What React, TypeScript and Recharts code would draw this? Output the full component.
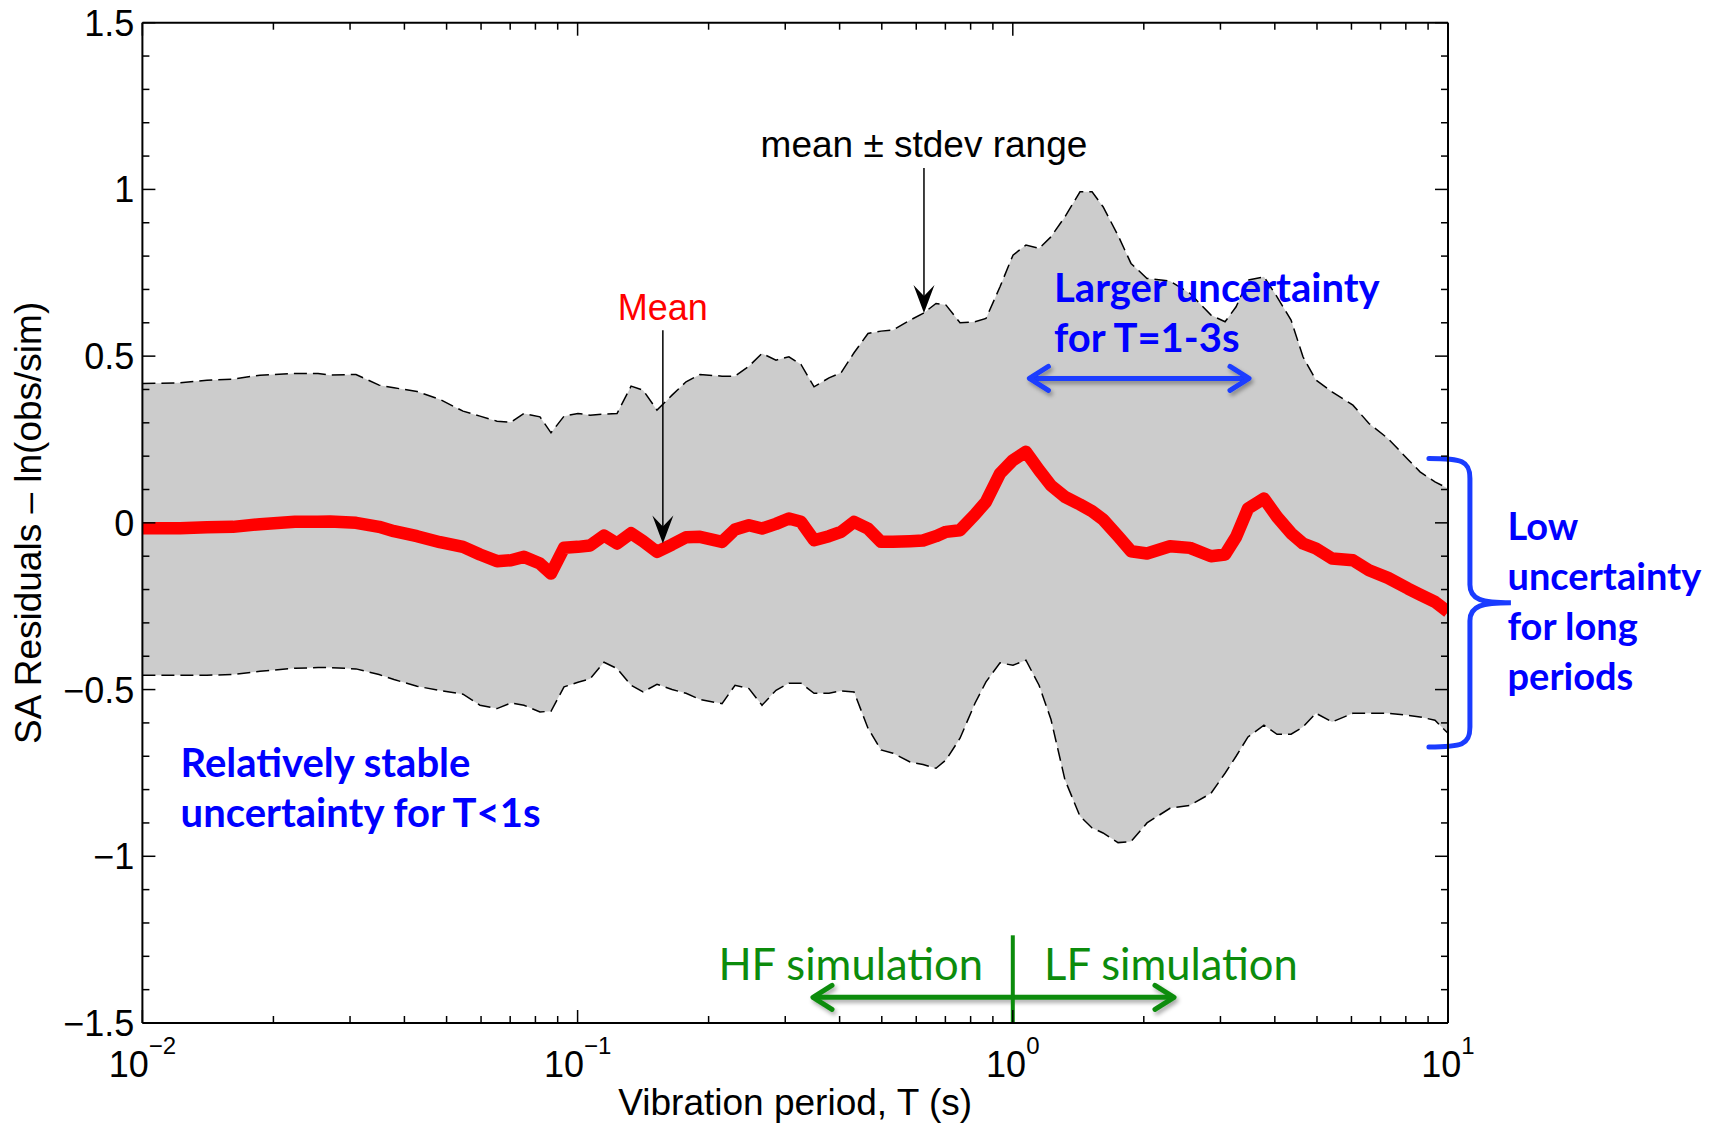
import React from "react";
import {
  ComposedChart,
  Area,
  Line,
  XAxis,
  YAxis,
  ReferenceDot,
  ReferenceLine,
} from "recharts";

// vibration period T (s)
const periods = [
  0.01, 0.0122, 0.01407, 0.01615, 0.01863, 0.02242, 0.02533, 0.02699, 0.03096, 0.03498,
  0.03785, 0.04276, 0.04829, 0.05454, 0.05966, 0.06529, 0.07031, 0.07527, 0.08194, 0.08687,
  0.09307, 0.1002, 0.1068, 0.115, 0.1232, 0.1327, 0.1414, 0.1522, 0.1648, 0.1775,
  0.1911, 0.2147, 0.23, 0.2476, 0.2653, 0.2857, 0.3059, 0.3261, 0.3494, 0.3782,
  0.403, 0.4317, 0.4648, 0.4979, 0.5306, 0.5806, 0.622, 0.6661, 0.7024, 0.7563,
  0.8187, 0.8677, 0.9346, 1.001, 1.072, 1.149, 1.224, 1.318, 1.427, 1.521,
  1.612, 1.745, 1.869, 2.034, 2.297, 2.554, 2.854, 3.074, 3.259, 3.471,
  3.777, 4.047, 4.359, 4.643, 4.973, 5.414, 6.047, 6.583, 7.279, 8.092,
  8.625, 9.335, 10,
];

const meanResidual = [
  -0.016, -0.016, -0.013, -0.012, -0.004, 0.003, 0.003, 0.004, 0.0, -0.012,
  -0.025, -0.04, -0.058, -0.072, -0.095, -0.115, -0.112, -0.102, -0.122, -0.152,
  -0.075, -0.072, -0.068, -0.038, -0.062, -0.031, -0.055, -0.087, -0.065, -0.043,
  -0.042, -0.057, -0.02, -0.007, -0.017, -0.003, 0.013, 0.003, -0.052, -0.04,
  -0.027, 0.003, -0.017, -0.057, -0.057, -0.055, -0.053, -0.04, -0.027, -0.022,
  0.025, 0.063, 0.148, 0.188, 0.213, 0.158, 0.112, 0.078, 0.055, 0.035,
  0.01, -0.04, -0.085, -0.092, -0.07, -0.075, -0.1, -0.095, -0.042, 0.043,
  0.073, 0.018, -0.031, -0.062, -0.077, -0.107, -0.112, -0.142, -0.165, -0.197,
  -0.215, -0.237, -0.267,
];

const upperBound = [
  0.418, 0.42, 0.428, 0.431, 0.443, 0.448, 0.448, 0.443, 0.445, 0.413,
  0.405, 0.394, 0.37, 0.335, 0.32, 0.305, 0.302, 0.328, 0.318, 0.27,
  0.32, 0.328, 0.323, 0.326, 0.328, 0.41, 0.398, 0.338, 0.383, 0.423,
  0.445, 0.44, 0.44, 0.47, 0.508, 0.488, 0.498, 0.475, 0.408, 0.435,
  0.45, 0.51, 0.568, 0.575, 0.578, 0.608, 0.628, 0.658, 0.653, 0.6,
  0.603, 0.613, 0.708, 0.803, 0.833, 0.823, 0.858, 0.918, 0.993, 0.993,
  0.948, 0.862, 0.778, 0.733, 0.725, 0.688, 0.623, 0.603, 0.648, 0.728,
  0.738, 0.678, 0.608, 0.498, 0.428, 0.393, 0.353, 0.298, 0.253, 0.19,
  0.153, 0.123, 0.103,
];

const lowerBound = [
  -0.457, -0.457, -0.457, -0.455, -0.445, -0.436, -0.434, -0.434, -0.438, -0.455,
  -0.47, -0.49, -0.503, -0.514, -0.547, -0.557, -0.54, -0.547, -0.567, -0.565,
  -0.492, -0.478, -0.468, -0.418, -0.437, -0.487, -0.507, -0.484, -0.5, -0.511,
  -0.53, -0.542, -0.487, -0.497, -0.547, -0.502, -0.481, -0.481, -0.511, -0.511,
  -0.504, -0.507, -0.616, -0.681, -0.691, -0.717, -0.725, -0.736, -0.711, -0.646,
  -0.541, -0.477, -0.42, -0.427, -0.412, -0.487, -0.59, -0.771, -0.88, -0.915,
  -0.93, -0.959, -0.956, -0.9, -0.856, -0.847, -0.811, -0.751, -0.7, -0.642,
  -0.607, -0.634, -0.634, -0.612, -0.571, -0.597, -0.571, -0.571, -0.571, -0.577,
  -0.582, -0.592, -0.631,
];

const xTicks = [
  0.01, 0.02, 0.03, 0.04, 0.05, 0.06, 0.07, 0.08, 0.09,
  0.1, 0.2, 0.3, 0.4, 0.5, 0.6, 0.7, 0.8, 0.9,
  1, 2, 3, 4, 5, 6, 7, 8, 9, 10,
];
const yTicks = [
  -1.5, -1.4, -1.3, -1.2, -1.1, -1, -0.9, -0.8, -0.7, -0.6, -0.5, -0.4, -0.3, -0.2, -0.1,
  0, 0.1, 0.2, 0.3, 0.4, 0.5, 0.6, 0.7, 0.8, 0.9, 1, 1.1, 1.2, 1.3, 1.4, 1.5,
];

// annotation anchors in data units (period, residual)
const stdevArrow = [{ x: 0.625, y: 1.064 }, { x: 0.625, y: 0.629 }];
const meanArrow = [{ x: 0.157, y: 0.578 }, { x: 0.157, y: -0.062 }];
const blueArrow = [{ x: 1.086, y: 0.433 }, { x: 3.508, y: 0.433 }];
const greenArrow = [{ x: 0.3456, y: -1.423 }, { x: 2.359, y: -1.423 }];
const splitLine = [{ x: 1, y: -1.237 }, { x: 1, y: -1.5 }];
const braceSpan = [{ x: 11.23, y: 0.193 }, { x: 11.23, y: -0.672 }];

const SANS = "'Liberation Sans', Arial, Helvetica, sans-serif";
const CAL = "Lato, 'Open Sans', sans-serif";
const BLUE_TXT = "#0000ff";
const BLUE_LN = "#1a3cff";
const GREEN = "#0c8c0c";

const notes = [
  { x: 0.625, y: 1.098, lines: ["mean \u00b1 stdev range"], color: "#000", anchor: "middle", font: SANS, size: 37, weight: 400 },
  { x: 0.157, y: 0.608, lines: ["Mean"], color: "#ff0000", anchor: "middle", font: SANS, size: 36, weight: 400 },
  { x: 1.244, y: 0.663, lines: ["Larger uncertainty", "for T=1-3s"], color: BLUE_TXT, anchor: "start", font: CAL, size: 40, weight: 700 },
  { x: 13.7, y: -0.052, lines: ["Low", "uncertainty", "for long", "periods"], color: BLUE_TXT, anchor: "start", font: CAL, size: 38, weight: 700 },
  { x: 0.01224, y: -0.7615, lines: ["Relatively stable", "uncertainty for T<1s"], color: BLUE_TXT, anchor: "start", font: CAL, size: 40, weight: 700 },
  { x: 0.854, y: -1.371, lines: ["HF simulation"], color: GREEN, anchor: "end", font: CAL, size: 43.5, weight: 400 },
  { x: 1.18, y: -1.371, lines: ["LF simulation"], color: GREEN, anchor: "start", font: CAL, size: 43.5, weight: 400 },
];

const rows = periods.map((T, i) => ({
  T,
  mean: meanResidual[i],
  upper: upperBound[i],
  lower: lowerBound[i],
  band: [lowerBound[i], upperBound[i]],
}));

const isDecade = (v: number) => Math.abs(Math.log10(v) - Math.round(Math.log10(v))) < 1e-6;
const isHalf = (v: number) => Math.abs(v * 2 - Math.round(v * 2)) < 1e-6;
const fmtY = (v: number) => (Math.abs(v) < 1e-9 ? "0" : v < 0 ? `\u2212${Math.abs(v)}` : `${v}`);

const BottomTick = (p: any) => {
  const { x, y, payload } = p;
  const major = isDecade(payload.value);
  const exp = Math.round(Math.log10(payload.value));
  return (
    <g>
      <line x1={x} x2={x} y1={y} y2={y - (major ? 13 : 7)} stroke='#000' strokeWidth={1.5} />
      {major && (
        <text x={x} y={y + 54} textAnchor='middle' fontFamily={SANS} fontSize={36} fill='#000'>
          10
          <tspan dy={-23} fontSize={24}>
            {exp < 0 ? `\u2212${-exp}` : `${exp}`}
          </tspan>
        </text>
      )}
    </g>
  );
};

const TopTick = (p: any) => {
  const { x, y, payload } = p;
  const major = isDecade(payload.value);
  return <line x1={x} x2={x} y1={y} y2={y + (major ? 13 : 7)} stroke='#000' strokeWidth={1.5} />;
};

const LeftTick = (p: any) => {
  const { x, y, payload } = p;
  const major = isHalf(payload.value);
  return (
    <g>
      <line x1={x} x2={x + (major ? 13 : 7)} y1={y} y2={y} stroke='#000' strokeWidth={1.5} />
      {major && (
        <text x={x - 8} y={y} dy='0.36em' textAnchor='end' fontFamily={SANS} fontSize={36} fill='#000'>
          {fmtY(payload.value)}
        </text>
      )}
    </g>
  );
};

const RightTick = (p: any) => {
  const { x, y, payload } = p;
  const major = isHalf(payload.value);
  return <line x1={x} x2={x - (major ? 13 : 7)} y1={y} y2={y} stroke='#000' strokeWidth={1.5} />;
};

// thin black arrow with a stealth head pointing at (x2, y2)
const StealthArrow = (p: any) => {
  const { x1, y1, x2, y2 } = p;
  return (
    <g>
      <line x1={x1} y1={y1} x2={x2} y2={y2 - 12} stroke='#000' strokeWidth={1.5} />
      <path
        d={`M${x2},${y2} L${x2 - 10.5},${y2 - 28} L${x2},${y2 - 17} L${x2 + 10.5},${y2 - 28} Z`}
        fill='#000'
      />
    </g>
  );
};

const makeDoubleArrow = (color: string, id: string) => (p: any) => {
  const { x1, y1, x2, y2 } = p;
  return (
    <g>
      <defs>
        <filter id={id} x='-10%' y='-100%' width='120%' height='300%'>
          <feDropShadow dx='2' dy='3' stdDeviation='2' floodColor='#000' floodOpacity='0.35' />
        </filter>
      </defs>
      <g filter={`url(#${id})`} stroke={color} strokeWidth={5} strokeLinecap='round' fill='none'>
        <line x1={x1 + 2} y1={y1} x2={x2 - 2} y2={y2} />
        <polyline points={`${x1 + 20},${y1 - 12} ${x1 + 1},${y1} ${x1 + 20},${y1 + 12}`} strokeLinejoin='round' />
        <polyline points={`${x2 - 20},${y2 - 12} ${x2 - 1},${y2} ${x2 - 20},${y2 + 12}`} strokeLinejoin='round' />
      </g>
    </g>
  );
};

const BlueArrow = makeDoubleArrow(BLUE_LN, "shadowBlue");
const GreenArrow = makeDoubleArrow(GREEN, "shadowGreen");

const SplitMark = (p: any) => (
  <line x1={p.x1} y1={p.y1} x2={p.x2} y2={p.y2} stroke={GREEN} strokeWidth={4} />
);

// curly brace: vertical spine at x1 from y1 to y2, point towards the right
const Brace = (p: any) => {
  const { x1: x, y1: yT, y2: yB } = p;
  const yM = (yT + yB) / 2;
  const d = [
    `M${x - 41},${yT}`,
    `C${x - 8},${yT} ${x},${yT + 2} ${x},${yT + 20}`,
    `L${x},${yM - 18}`,
    `C${x},${yM - 3} ${x + 12},${yM} ${x + 41},${yM}`,
    `C${x + 12},${yM} ${x},${yM + 3} ${x},${yM + 18}`,
    `L${x},${yB - 20}`,
    `C${x},${yB - 2} ${x - 8},${yB} ${x - 41},${yB}`,
  ].join(" ");
  return <path d={d} fill='none' stroke={BLUE_LN} strokeWidth={5} strokeLinecap='round' />;
};

const NoteText = (note: any) => (p: any) => (
  <text
    x={p.cx}
    y={p.cy}
    textAnchor={note.anchor}
    fontFamily={note.font}
    fontSize={note.size}
    fontWeight={note.weight}
    fill={note.color}
  >
    {note.lines.map((l: string, i: number) => (
      <tspan key={i} x={p.cx} dy={i === 0 ? 0 : 50}>
        {l}
      </tspan>
    ))}
  </text>
);

const YTitle = (p: any) => {
  const vb = p.viewBox;
  const cy = vb.y + vb.height / 2;
  const cx = vb.x - 41;
  return (
    <text
      transform={`translate(${cx},${cy}) rotate(-90)`}
      textAnchor='middle'
      fontFamily={SANS}
      fontSize={37}
      fill='#000'
    >
      SA Residuals – ln(obs/sim)
    </text>
  );
};

const XTitle = (p: any) => {
  const vb = p.viewBox;
  return (
    <text
      x={vb.x + vb.width / 2}
      y={vb.y + 92}
      textAnchor='middle'
      fontFamily={SANS}
      fontSize={37}
      fill='#000'
    >
      Vibration period, T (s)
    </text>
  );
};

const App = () => {
  return (
    <div style={{ position: "absolute", left: 0, top: 0, width: 1711, height: 1132, background: "#fff" }}>
      <ComposedChart
        width={1711}
        height={1132}
        data={rows}
        margin={{ top: 12.7, right: 253, bottom: 49, left: 82.4 }}
      >
        <Area
          dataKey='band'
          type='linear'
          fill='#cccccc'
          fillOpacity={1}
          stroke='none'
          isAnimationActive={false}
          activeDot={false}
        />
        <Line
          dataKey='upper'
          type='linear'
          stroke='#000'
          strokeWidth={1.5}
          strokeDasharray='13 6'
          dot={false}
          activeDot={false}
          isAnimationActive={false}
        />
        <Line
          dataKey='lower'
          type='linear'
          stroke='#000'
          strokeWidth={1.5}
          strokeDasharray='13 6'
          dot={false}
          activeDot={false}
          isAnimationActive={false}
        />
        <Line
          dataKey='mean'
          type='linear'
          stroke='#ff0000'
          strokeWidth={12.5}
          strokeLinejoin='round'
          dot={false}
          activeDot={false}
          isAnimationActive={false}
        />

        <ReferenceLine segment={stdevArrow} ifOverflow='visible' shape={StealthArrow} />
        <ReferenceLine segment={meanArrow} ifOverflow='visible' shape={StealthArrow} />
        <ReferenceLine segment={blueArrow} ifOverflow='visible' shape={BlueArrow} />
        <ReferenceLine segment={greenArrow} ifOverflow='visible' shape={GreenArrow} />
        <ReferenceLine segment={splitLine} ifOverflow='visible' shape={SplitMark} />
        <ReferenceLine segment={braceSpan} ifOverflow='visible' shape={Brace} />

        {notes.map((n, i) => (
          <ReferenceDot key={i} x={n.x} y={n.y} ifOverflow='visible' shape={NoteText(n)} />
        ))}

        <XAxis
          dataKey='T'
          type='number'
          scale='log'
          domain={[0.01, 10]}
          allowDataOverflow
          ticks={xTicks}
          interval={0}
          tick={<BottomTick />}
          tickSize={0}
          tickMargin={0}
          tickLine={false}
          axisLine={{ stroke: "#000", strokeWidth: 2 }}
          height={60}
          label={XTitle}
        />
        <XAxis
          xAxisId='top'
          orientation='top'
          dataKey='T'
          type='number'
          scale='log'
          domain={[0.01, 10]}
          allowDataOverflow
          ticks={xTicks}
          interval={0}
          tick={<TopTick />}
          tickSize={0}
          tickMargin={0}
          tickLine={false}
          axisLine={{ stroke: "#000", strokeWidth: 2 }}
          height={10}
        />
        <YAxis
          type='number'
          domain={[-1.5, 1.5]}
          allowDataOverflow
          ticks={yTicks}
          interval={0}
          tick={<LeftTick />}
          tickSize={0}
          tickMargin={0}
          tickLine={false}
          axisLine={{ stroke: "#000", strokeWidth: 2 }}
          width={60}
          label={YTitle}
        />
        <YAxis
          yAxisId='right'
          orientation='right'
          type='number'
          domain={[-1.5, 1.5]}
          allowDataOverflow
          ticks={yTicks}
          interval={0}
          tick={<RightTick />}
          tickSize={0}
          tickMargin={0}
          tickLine={false}
          axisLine={{ stroke: "#000", strokeWidth: 2 }}
          width={10}
        />
      </ComposedChart>
    </div>
  );
};

export default App;
